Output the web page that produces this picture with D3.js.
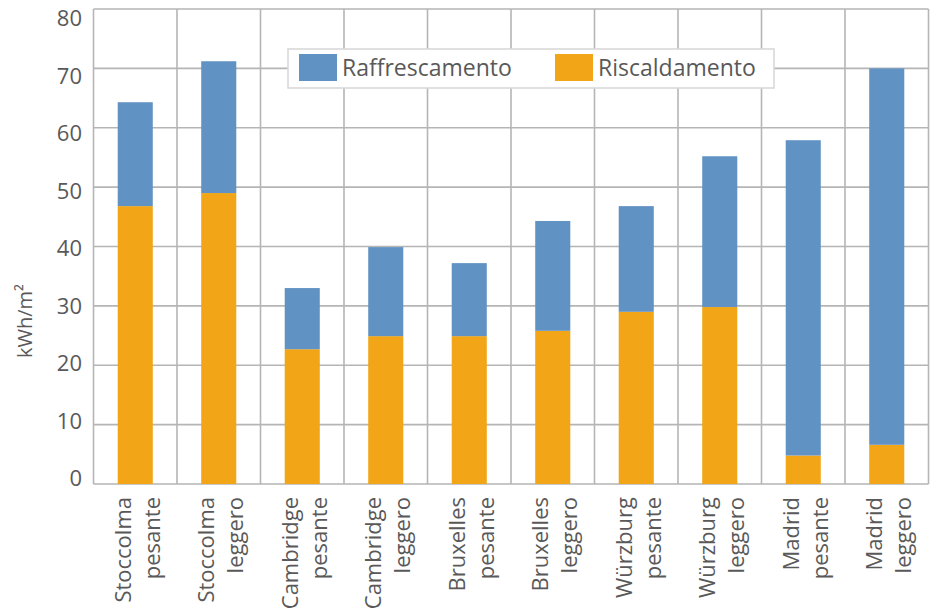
<!DOCTYPE html>
<html>
<head>
<meta charset="utf-8">
<script src="https://cdn.jsdelivr.net/npm/d3@7"></script>
<style>
  html, body { margin: 0; padding: 0; background: #ffffff; }
  svg { display: block; }
  text { font-family: "Open Sans", "Noto Sans", sans-serif; fill: #595959; }
</style>
</head>
<body>
<svg id="chart" width="936" height="609"></svg>
<script>
// ---- data ----
const cities = ["Stoccolma", "Stoccolma", "Cambridge", "Cambridge", "Bruxelles", "Bruxelles", "Würzburg", "Würzburg", "Madrid", "Madrid"];
const types = ["pesante", "leggero", "pesante", "leggero", "pesante", "leggero", "pesante", "leggero", "pesante", "leggero"];
const riscaldamento = [46.8, 49.0, 22.7, 24.9, 24.9, 25.8, 29.0, 29.8, 4.8, 6.6];
const raffrescamento = [17.5, 22.2, 10.3, 15.0, 12.3, 18.5, 17.8, 25.4, 53.1, 63.4];
const yTicks = [0, 10, 20, 30, 40, 50, 60, 70, 80];
const seriesNames = ["Raffrescamento", "Riscaldamento"];
const seriesColors = ["#6192c4", "#f2a516"];
const yTitle = "kWh/m²";

// ---- layout ----
const svg = d3.select("#chart");
const pLeft = 93.5, pRight = 928.5, pTop = 9, pBottom = 484;
const gridColor = "#b5b5b5";

const idx = d3.range(cities.length);
const slot = d3.scaleBand().domain(idx).range([pLeft, pRight]);
const x = d3.scaleBand().domain(idx).range([pLeft, pRight]).paddingInner(0.58).paddingOuter(0.29);
const y = d3.scaleLinear().domain([0, 80]).range([pBottom, pTop]);
const yLab = d3.scaleLinear().domain([0, 80]).range([478.5, 18.5]);

// gridlines
const grid = svg.append("g");
grid.selectAll("line.h").data(yTicks).join("line")
  .attr("x1", pLeft).attr("x2", pRight)
  .attr("y1", d => y(d)).attr("y2", d => y(d))
  .attr("stroke", gridColor).attr("stroke-width", 1.6);
const vx = idx.map(i => slot(i)).concat([pRight]);
grid.selectAll("line.v").data(vx).join("line")
  .attr("x1", d => d).attr("x2", d => d)
  .attr("y1", pTop).attr("y2", pBottom)
  .attr("stroke", gridColor).attr("stroke-width", 1.6);

// stacked bars
const rows = idx.map(i => ({ i, risc: riscaldamento[i], raff: raffrescamento[i] }));
const stack = d3.stack().keys(["risc", "raff"])(rows);
const colorByKey = { risc: seriesColors[1], raff: seriesColors[0] };
svg.append("g").selectAll("g").data(stack).join("g")
  .attr("fill", s => colorByKey[s.key])
  .selectAll("rect").data(s => s).join("rect")
  .attr("x", d => x(d.data.i))
  .attr("width", x.bandwidth())
  .attr("y", d => y(d[1]))
  .attr("height", d => y(d[0]) - y(d[1]));

// y axis labels
const yAxis = d3.axisLeft(yLab).tickValues(yTicks).tickSize(0).tickPadding(0);
const ya = svg.append("g").attr("transform", "translate(82,0)").call(yAxis);
ya.select(".domain").remove();
ya.selectAll("text").style("font-size", "22px").attr("fill", "#595959")
  .style("font-family", '"Open Sans", "Noto Sans", sans-serif');

// x category labels
const xl = svg.append("g").selectAll("g").data(idx).join("g")
  .attr("transform", i => `translate(${slot(i) + slot.bandwidth() / 2},497) rotate(-90)`);
xl.append("text").attr("text-anchor", "end").attr("x", 0).attr("y", -4.5)
  .style("font-size", "22px").text(i => cities[i]);
xl.append("text").attr("text-anchor", "end").attr("x", 0).attr("y", 24.5)
  .style("font-size", "22px").text(i => types[i]);

// y title
svg.append("text").attr("transform", "translate(32,321) rotate(-90)")
  .attr("text-anchor", "middle").style("font-size", "20px").text(yTitle);

// legend
const lg = svg.append("g");
lg.append("rect").attr("x", 288).attr("y", 49).attr("width", 486).attr("height", 39)
  .attr("fill", "#ffffff").attr("stroke", "#d9d9d9").attr("stroke-width", 1.6);
const legX = [299, 555];
seriesNames.forEach((n, k) => {
  lg.append("rect").attr("x", legX[k]).attr("y", 54).attr("width", 38).attr("height", 27)
    .attr("fill", seriesColors[k]);
  lg.append("text").attr("x", legX[k] + 43).attr("y", 76).style("font-size", "23px").text(n);
});
</script>
</body>
</html>
